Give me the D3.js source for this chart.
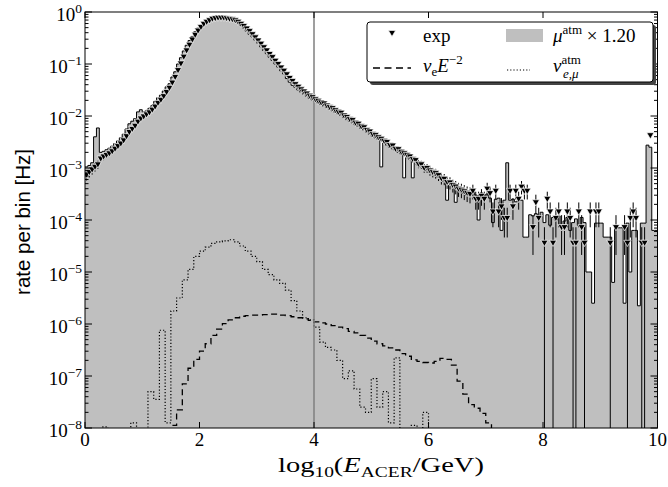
<!DOCTYPE html>
<html>
<head>
<meta charset="utf-8">
<script src="https://cdn.jsdelivr.net/npm/d3@7"></script>
<style>
  body { margin: 0; background: #fff; }
  text { font-family: "Liberation Serif", "DejaVu Serif", serif; fill: #000; }
</style>
</head>
<body>
<div id="chart"></div>
<script>
// histogram binning in log10(E/GeV)
var binWidth = 0.05;
var nuBinWidth = 0.1;

// mu atm MC x 1.20, rate per bin [Hz], 200 bins of 0.05
var mcRate = [
  1.05e-3,1.12e-3,1.26e-3,3.98e-3,5.89e-3,2.0e-3,2.09e-3,2.24e-3,2.40e-3,2.63e-3,
  2.95e-3,3.31e-3,3.80e-3,4.47e-3,5.62e-3,7.08e-3,7.94e-3,8.91e-3,1.20e-2,1.32e-2,
  1.20e-2,1.26e-2,1.41e-2,1.58e-2,1.91e-2,2.24e-2,2.51e-2,3.02e-2,3.63e-2,4.17e-2,
  5.62e-2,7.08e-2,0.100,0.132,0.178,0.229,0.282,0.339,0.417,0.490,
  0.562,0.617,0.676,0.724,0.759,0.776,0.794,0.794,0.794,0.794,
  0.776,0.759,0.692,0.631,0.550,0.490,0.427,0.372,0.331,0.288,
  0.251,0.214,0.182,0.158,0.135,0.117,0.100,8.71e-2,7.41e-2,6.46e-2,
  5.25e-2,4.47e-2,3.89e-2,3.55e-2,3.16e-2,2.88e-2,2.63e-2,2.40e-2,2.19e-2,2.04e-2,
  1.91e-2,1.78e-2,1.66e-2,1.55e-2,1.45e-2,1.35e-2,1.26e-2,1.17e-2,1.10e-2,1.02e-2,
  9.33e-3,8.51e-3,7.94e-3,7.41e-3,6.76e-3,6.31e-3,5.75e-3,5.37e-3,4.90e-3,4.47e-3,
  4.07e-3,3.80e-3,3.55e-3,1.05e-3,3.02e-3,2.75e-3,2.51e-3,2.34e-3,2.19e-3,2.00e-3,
  1.86e-3,6.46e-4,1.58e-3,1.48e-3,6.46e-4,1.26e-3,1.12e-3,1.05e-3,9.55e-4,8.91e-4,
  8.32e-4,7.76e-4,7.24e-4,6.61e-4,6.03e-4,5.50e-4,2.40e-4,4.68e-4,4.37e-4,2.19e-4,
  3.72e-4,3.47e-4,3.24e-4,3.02e-4,3.16e-4,3.55e-4,3.02e-4,1.00e-4,3.31e-4,2.82e-4,
  3.16e-4,2.63e-4,8.91e-5,2.51e-4,2.63e-4,6.31e-5,2.40e-4,1.26e-3,2.40e-4,2.51e-4,
  2.24e-4,2.40e-4,2.40e-4,4.68e-5,4.68e-5,1.26e-4,1.20e-4,1.32e-4,1.12e-4,1.41e-4,
  8.91e-5,1.26e-4,7.94e-5,1.12e-4,1.00e-4,1.20e-4,7.08e-5,9.55e-5,1.12e-4,6.31e-5,
  8.91e-5,1.05e-4,7.94e-5,1.12e-4,8.91e-5,1.00e-5,1.00e-5,2.51e-6,8.71e-5,8.71e-5,
  8.71e-5,4.68e-5,4.68e-5,4.68e-5,6.31e-6,7.08e-5,7.08e-5,7.08e-5,2.51e-6,8.71e-5,
  1.00e-5,6.31e-5,6.31e-5,2.24e-6,8.71e-5,8.71e-5,2.75e-3,2.51e-3,6.31e-5,6.31e-5
];

// experimental data, rate per bin [Hz]
var expRate = [
  7.4e-4,8.3e-4,9.3e-4,1.05e-3,1.17e-3,1.51e-3,1.66e-3,1.78e-3,1.91e-3,2.09e-3,
  2.34e-3,2.63e-3,2.95e-3,3.39e-3,4.07e-3,4.90e-3,5.62e-3,6.46e-3,7.76e-3,8.91e-3,
  9.77e-3,1.07e-2,1.17e-2,1.32e-2,1.51e-2,1.78e-2,2.04e-2,2.40e-2,2.88e-2,3.47e-2,
  4.37e-2,5.62e-2,7.59e-2,0.102,0.138,0.182,0.234,0.295,0.363,0.437,
  0.513,0.589,0.646,0.692,0.741,0.759,0.776,0.776,0.776,0.759,
  0.741,0.724,0.692,0.646,0.589,0.537,0.479,0.427,0.372,0.324,
  0.282,0.245,0.209,0.182,0.155,0.135,0.115,0.100,8.51e-2,7.41e-2,
  6.31e-2,5.37e-2,4.68e-2,4.07e-2,3.63e-2,3.24e-2,2.95e-2,2.69e-2,2.45e-2,2.29e-2,
  2.09e-2,1.95e-2,1.82e-2,1.74e-2,1.58e-2,1.48e-2,1.41e-2,1.29e-2,1.20e-2,1.15e-2,
  1.02e-2,9.55e-3,8.71e-3,8.32e-3,7.41e-3,7.08e-3,6.31e-3,6.03e-3,5.37e-3,5.01e-3,
  4.47e-3,4.27e-3,3.89e-3,3.63e-3,3.31e-3,3.16e-3,2.75e-3,2.69e-3,2.34e-3,2.29e-3,
  2.04e-3,1.91e-3,1.78e-3,1.66e-3,1.48e-3,1.41e-3,1.20e-3,1.17e-3,1.00e-3,1.00e-3,
  8.91e-4,8.32e-4,7.94e-4,7.24e-4,6.31e-4,6.17e-4,5.37e-4,5.25e-4,4.68e-4,4.37e-4,
  3.98e-4,3.80e-4,3.55e-4,3.31e-4,3.16e-4,3.63e-4,2.54e-4,2.54e-4,2.90e-4,2.54e-4,
  3.99e-4,3.27e-4,1.45e-4,3.63e-4,1.45e-4,1.82e-4,1.09e-4,1.09e-4,3.63e-4,1.82e-4,
  3.63e-4,2.54e-4,4.36e-4,3.63e-4,3.63e-4,0,7.26e-5,2.18e-4,1.09e-4,0,
  3.63e-5,2.54e-4,1.45e-4,3.63e-5,1.09e-4,1.45e-4,7.26e-5,7.26e-5,1.45e-4,1.09e-4,
  3.63e-5,3.63e-5,1.45e-4,7.26e-5,3.63e-5,0,1.45e-4,0,1.45e-4,1.45e-4,
  0,0,0,3.63e-5,0,7.26e-5,0,0,7.26e-5,3.63e-5,
  1.09e-4,1.45e-4,1.09e-4,0,3.63e-5,3.63e-5,0,4.25e-3,0,0
];
// rate of a single event (sets the Poisson error bars)
var oneEventRate = 3.63e-5;

// nu_e E^-2 signal, 100 bins of 0.1
var nuESignal = [
  0,0,0,0,0,0,0,0,0,0,
  0,0,0,0,0,1.12e-8,2.24e-8,7.08e-8,1.41e-7,2.09e-7,
  3.02e-7,4.17e-7,6.03e-7,7.94e-7,1.02e-6,1.20e-6,1.32e-6,1.41e-6,1.45e-6,1.48e-6,
  1.48e-6,1.51e-6,1.55e-6,1.55e-6,1.48e-6,1.45e-6,1.38e-6,1.32e-6,1.26e-6,1.17e-6,
  1.10e-6,1.05e-6,1.0e-6,9.33e-7,8.71e-7,8.13e-7,7.24e-7,6.76e-7,6.03e-7,5.37e-7,
  4.68e-7,4.17e-7,3.80e-7,3.47e-7,3.16e-7,2.69e-7,2.40e-7,2.04e-7,1.91e-7,1.82e-7,
  1.78e-7,1.91e-7,2.19e-7,2.09e-7,1.62e-7,7.94e-8,4.47e-8,2.82e-8,2.40e-8,1.91e-8,
  1.26e-8,0,0,0,0,0,0,0,0,0,
  0,0,0,0,0,0,0,0,0,0,
  0,0,0,0,0,0,0,0,0,0
];

// atmospheric nu_e / nu_mu, 100 bins of 0.1
var nuAtm = [
  0,0,0,1.05e-8,0,0,0,0,1.26e-8,0,
  0,5.01e-8,3.55e-8,7.59e-7,1.26e-8,1.78e-6,3.16e-6,7.08e-6,1.12e-5,2.0e-5,
  2.51e-5,3.02e-5,3.55e-5,3.80e-5,3.98e-5,4.17e-5,3.80e-5,3.16e-5,2.51e-5,2.0e-5,
  1.58e-5,1.12e-5,8.91e-6,7.08e-6,6.03e-6,4.47e-6,2.82e-6,1.78e-6,1.32e-6,1.20e-6,
  8.71e-7,4.47e-7,3.55e-7,3.16e-7,2.0e-7,8.91e-8,1.26e-7,5.62e-8,2.51e-8,2.0e-8,
  8.91e-8,2.51e-8,5.01e-8,1.26e-8,2.24e-7,0,0,1.12e-8,0,2.0e-8,
  0,0,0,0,0,0,0,0,0,0,
  0,0,0,0,0,0,0,0,0,0,
  0,0,0,0,0,0,0,0,0,0,
  0,0,0,0,0,0,0,0,0,0
];

var xTicks = [0, 2, 4, 6, 8, 10];
var yDecades = [-8, -7, -6, -5, -4, -3, -2, -1, 0];
var cutLine = 4;

var width = 668, height = 487;
var plotLeft = 85, plotRight = 657.5, plotTop = 12, plotBottom = 428;

var svg = d3.select("#chart").append("svg")
  .attr("width", width).attr("height", height);

var x = d3.scaleLinear().domain([0, 10]).range([plotLeft, plotRight]);
var y = d3.scaleLog().domain([1e-8, 1]).range([plotBottom, plotTop]);

svg.append("clipPath").attr("id", "plotclip")
  .append("rect").attr("x", plotLeft).attr("y", plotTop)
  .attr("width", plotRight - plotLeft).attr("height", plotBottom - plotTop);

var plot = svg.append("g").attr("clip-path", "url(#plotclip)");

// y position of a value, zero drops below the frame
function yv(v) { return v > 0 ? y(v) : plotBottom + 20; }

function stepPoints(vals, bw) {
  var pts = [];
  vals.forEach(function(v, i) {
    pts.push([x(i * bw), yv(v)], [x((i + 1) * bw), yv(v)]);
  });
  return pts;
}

var line = d3.line();

// MC histogram, filled
var mcPts = stepPoints(mcRate, binWidth);
var areaPts = [[x(0), plotBottom + 20]].concat(mcPts, [[x(10), plotBottom + 20]]);
plot.append("path").attr("d", line(areaPts))
  .attr("fill", "#bfbfbf").attr("stroke", "none");
plot.append("path").attr("d", line(mcPts))
  .attr("fill", "none").attr("stroke", "#000").attr("stroke-width", 1);

// neutrino histograms
plot.append("path").attr("d", line(stepPoints(nuAtm, nuBinWidth)))
  .attr("fill", "none").attr("stroke", "#000").attr("stroke-width", 1.2)
  .attr("stroke-dasharray", "1.2,2");
plot.append("path").attr("d", line(stepPoints(nuESignal, nuBinWidth)))
  .attr("fill", "none").attr("stroke", "#000").attr("stroke-width", 1.3)
  .attr("stroke-dasharray", "6,4");

// energy cut
plot.append("line")
  .attr("x1", x(cutLine)).attr("x2", x(cutLine))
  .attr("y1", plotTop).attr("y2", plotBottom)
  .attr("stroke", "#7f7f7f").attr("stroke-width", 1.5);

// experimental data: error bars and markers
var expData = expRate.map(function(v, i) { return {x: (i + 0.5) * binWidth, v: v}; })
  .filter(function(d) { return d.v > 0; });

plot.selectAll("line.err").data(expData).enter().append("line")
  .attr("class", "err")
  .attr("x1", function(d) { return x(d.x); })
  .attr("x2", function(d) { return x(d.x); })
  .attr("y1", function(d) { return yv(d.v - Math.sqrt(d.v * oneEventRate)); })
  .attr("y2", function(d) { return yv(d.v + Math.sqrt(d.v * oneEventRate)); })
  .attr("stroke", "#000").attr("stroke-width", 1);

var tri = "M-3.6,-2.6L3.6,-2.6L0,3.6Z";
plot.selectAll("path.exp").data(expData).enter().append("path")
  .attr("class", "exp")
  .attr("d", tri)
  .attr("transform", function(d) { return "translate(" + x(d.x) + "," + y(d.v) + ")"; })
  .attr("fill", "#000").attr("stroke", "#fff").attr("stroke-width", 0.7);

// frame and ticks
var axes = svg.append("g");
axes.append("rect").attr("x", plotLeft).attr("y", plotTop)
  .attr("width", plotRight - plotLeft).attr("height", plotBottom - plotTop)
  .attr("fill", "none").attr("stroke", "#000").attr("stroke-width", 1);

xTicks.forEach(function(t) {
  axes.append("line").attr("x1", x(t)).attr("x2", x(t))
    .attr("y1", plotBottom).attr("y2", plotBottom - 6).attr("stroke", "#000");
  axes.append("line").attr("x1", x(t)).attr("x2", x(t))
    .attr("y1", plotTop).attr("y2", plotTop + 6).attr("stroke", "#000");
  axes.append("text").attr("x", x(t)).attr("y", 445.5)
    .attr("text-anchor", "middle").attr("font-size", 19).text(t);
});

yDecades.forEach(function(k) {
  var yy = y(Math.pow(10, k));
  axes.append("line").attr("x1", plotLeft).attr("x2", plotLeft + 7)
    .attr("y1", yy).attr("y2", yy).attr("stroke", "#000");
  axes.append("line").attr("x1", plotRight).attr("x2", plotRight - 7)
    .attr("y1", yy).attr("y2", yy).attr("stroke", "#000");
  if (k < 0) {
    for (var m = 2; m <= 9; m++) {
      var ym = y(m * Math.pow(10, k));
      axes.append("line").attr("x1", plotLeft).attr("x2", plotLeft + 3.5)
        .attr("y1", ym).attr("y2", ym).attr("stroke", "#000");
      axes.append("line").attr("x1", plotRight).attr("x2", plotRight - 3.5)
        .attr("y1", ym).attr("y2", ym).attr("stroke", "#000");
    }
  }
  var lab = axes.append("text").attr("x", 82).attr("y", yy + 8.5)
    .attr("text-anchor", "end").attr("font-size", 19);
  lab.append("tspan").text("10");
  lab.append("tspan").attr("dy", -7.5).attr("font-size", 13.5)
    .text(k < 0 ? "\u2212" + (-k) : k);
});

// axis labels
var xl = svg.append("text").attr("x", 0).attr("y", 0)
  .attr("font-size", 22);
xl.append("tspan").text("log");
xl.append("tspan").attr("font-size", 15).attr("dy", 5).text("10");
xl.append("tspan").attr("dy", -5).text("(");
xl.append("tspan").attr("font-style", "italic").text("E");
xl.append("tspan").attr("font-size", 15).attr("dy", 5).text("ACER");
xl.append("tspan").attr("dy", -5).text("/GeV)");
// widen slightly to the span of the reference lettering
var xlw = xl.node().getComputedTextLength();
var xls = 206 / xlw;
xl.attr("transform", "translate(" + (381 - 103) + ",472) scale(" + xls + ",1)");

svg.append("text")
  .attr("transform", "translate(30," + ((plotTop + plotBottom) / 2 + 2) + ") rotate(-90)")
  .attr("text-anchor", "middle")
  .style("font-family", "'Liberation Sans', Arial, sans-serif")
  .attr("font-size", 20.5).text("rate per bin [Hz]");

// legend
var lg = svg.append("g");
lg.append("rect").attr("x", 370).attr("y", 25).attr("width", 286).attr("height", 60)
  .attr("rx", 3).attr("fill", "#444");
lg.append("rect").attr("x", 367).attr("y", 22).attr("width", 286).attr("height", 60)
  .attr("rx", 3).attr("fill", "#fff").attr("stroke", "#000").attr("stroke-width", 1);

lg.append("path").attr("d", tri).attr("transform", "translate(392,33)")
  .attr("fill", "#000").attr("stroke", "#fff").attr("stroke-width", 0.7);
lg.append("text").attr("x", 423).attr("y", 42).attr("font-size", 19).text("exp");

lg.append("rect").attr("x", 506).attr("y", 29).attr("width", 37).attr("height", 13)
  .attr("fill", "#bfbfbf");
var t1 = lg.append("text").attr("x", 553).attr("y", 42).attr("font-size", 19);
t1.append("tspan").attr("font-style", "italic").text("\u03bc");
t1.append("tspan").attr("font-size", 13).attr("dy", -8).text("atm");
t1.append("tspan").attr("dy", 8).text(" \u00d7 1.20");

lg.append("line").attr("x1", 373).attr("x2", 411).attr("y1", 68).attr("y2", 68)
  .attr("stroke", "#000").attr("stroke-width", 1.3).attr("stroke-dasharray", "7,4.5");
var t2 = lg.append("text").attr("x", 423).attr("y", 72).attr("font-size", 19);
t2.append("tspan").attr("font-style", "italic").text("\u03bd");
t2.append("tspan").attr("font-size", 13).attr("dy", 4).text("e");
t2.append("tspan").attr("dy", -4).attr("font-style", "italic").text("E");
t2.append("tspan").attr("font-size", 13).attr("dy", -8).text("\u22122");

lg.append("line").attr("x1", 507).attr("x2", 530).attr("y1", 70).attr("y2", 70)
  .attr("stroke", "#000").attr("stroke-width", 1.2).attr("stroke-dasharray", "1.2,2");
var t3 = lg.append("text").attr("x", 553).attr("y", 72).attr("font-size", 19);
t3.append("tspan").attr("font-style", "italic").text("\u03bd");
t3.append("tspan").attr("font-size", 13).attr("dy", -8).text("atm");
t3.append("tspan").attr("font-size", 13).attr("font-style", "italic")
  .attr("x", 563).attr("dy", 14).text("e,\u03bc");
</script>
</body>
</html>
